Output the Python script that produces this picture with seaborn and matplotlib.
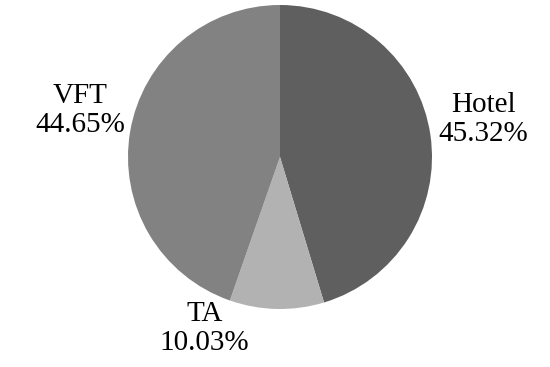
import matplotlib
matplotlib.use("Agg")
import matplotlib.pyplot as plt
import seaborn as sns

# Share of each category
categories = ["Hotel", "TA", "VFT"]
shares = [45.32, 10.03, 44.65]
colors = ["#5f5f5f", "#b2b2b2", "#828282"]

# where each label sits (in pie-radius units)
label_pos = [(1.336, 0.25), (-0.497, -1.128), (-1.316, 0.309)]

sns.set_theme(style="white")
plt.rcParams["font.family"] = ["Liberation Serif", "DejaVu Serif"]

fig = plt.figure(figsize=(5.5, 3.67), dpi=100)
ax = fig.add_axes([0, 0, 1, 1])

labels = [f"{c}\n{v:.2f}%" for c, v in zip(categories, shares)]
wedges, texts = ax.pie(shares, labels=labels, colors=colors, startangle=90,
                       counterclock=False, radius=1.0,
                       wedgeprops=dict(linewidth=0),
                       textprops=dict(fontsize=21, color="black"))

for t, (x, y) in zip(texts, label_pos):
    t.set_position((x, y))
    t.set_horizontalalignment("center")
    t.set_verticalalignment("center")
    t.set_linespacing(1.15)

# place the pie so that it matches the reference layout
ax.set_xlim(-280 / 152, 270 / 152)
ax.set_ylim(-210 / 152, 157 / 152)
ax.set_aspect("equal")
ax.axis("off")

fig.savefig("out.png", dpi=100)
